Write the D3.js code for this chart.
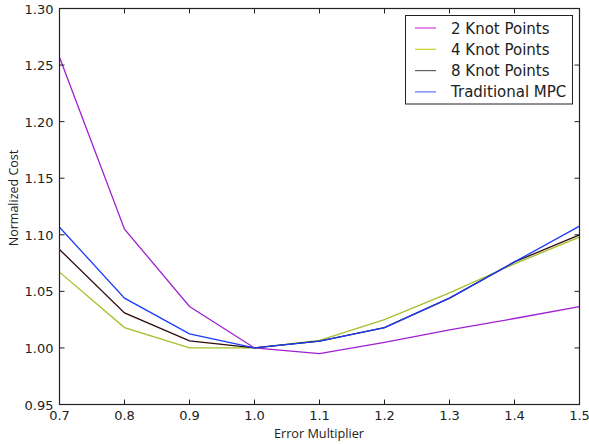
<!DOCTYPE html>
<html><head><meta charset="utf-8">
<script src="https://cdn.jsdelivr.net/npm/d3@7"></script>
<style>body{margin:0;background:#fff}svg{display:block}</style>
</head><body><svg id="c" width="589" height="444"></svg>
<script>
const multipliers = [0.7, 0.8, 0.9, 1.0, 1.1, 1.2, 1.3, 1.4, 1.5];
const knot2 = [1.257, 1.105, 1.0366, 1.000, 0.995, 1.005, 1.016, 1.026, 1.0366];
const knot4 = [1.067, 1.018, 1.000, 1.000, 1.0066, 1.025, 1.0487, 1.0743, 1.098];
const knot8 = [1.087, 1.031, 1.0063, 1.000, 1.006, 1.018, 1.044, 1.076, 1.100];
const tradMPC = [1.1067, 1.044, 1.0124, 1.000, 1.006, 1.018, 1.044, 1.076, 1.1076];
const seriesNames = ["2 Knot Points", "4 Knot Points", "8 Knot Points", "Traditional MPC"];
const seriesColors = ["#a020d0", "#a4c028", "#300c0c", "#1a3cff"];
const legendColors = ["#d040e0", "#d0d020", "#606060", "#6070ff"];
const xTicks = [0.7, 0.8, 0.9, 1.0, 1.1, 1.2, 1.3, 1.4, 1.5];
const yTicks = [0.95, 1.00, 1.05, 1.10, 1.15, 1.20, 1.25, 1.30];

const series = [knot2, knot4, knot8, tradMPC];
const svg = d3.select("#c");
const L = 59.5, R = 579.5, T = 8.5, B = 404.5;
const x = d3.scaleLinear().domain([0.7, 1.5]).range([L, R]);
const y = d3.scaleLinear().domain([0.95, 1.30]).range([B, T]);
const font = "DejaVu Sans, sans-serif";

// lines
const line = d3.line().x((d, i) => x(multipliers[i])).y(d => y(d));
series.forEach((s, k) => {
  svg.append("path").datum(s).attr("d", line).attr("fill", "none")
    .attr("stroke", seriesColors[k]).attr("stroke-width", 1.3);
});

// frame
svg.append("rect").attr("x", L).attr("y", T).attr("width", R - L).attr("height", B - T)
  .attr("fill", "none").attr("stroke", "#222").attr("stroke-width", 1.2);

// ticks inward on all sides
const g = svg.append("g");
xTicks.forEach(t => {
  g.append("line").attr("x1", x(t)).attr("x2", x(t)).attr("y1", B).attr("y2", B - 5).attr("stroke", "#222");
  g.append("line").attr("x1", x(t)).attr("x2", x(t)).attr("y1", T).attr("y2", T + 5).attr("stroke", "#222");
  g.append("text").attr("x", x(t)).attr("y", B + 15).attr("text-anchor", "middle")
    .attr("font-family", font).attr("font-size", 13).attr("fill", "#222").text(d3.format(".1f")(t));
});
yTicks.forEach(t => {
  g.append("line").attr("x1", L).attr("x2", L + 5).attr("y1", y(t)).attr("y2", y(t)).attr("stroke", "#222");
  g.append("line").attr("x1", R).attr("x2", R - 5).attr("y1", y(t)).attr("y2", y(t)).attr("stroke", "#222");
  g.append("text").attr("x", L - 6).attr("y", y(t) + 5).attr("text-anchor", "end")
    .attr("font-family", font).attr("font-size", 13).attr("fill", "#222").text(d3.format(".2f")(t));
});

// axis labels
svg.append("text").attr("x", 319).attr("y", 438).attr("text-anchor", "middle")
  .attr("font-family", "Open Sans, sans-serif").attr("font-size", 12.7).attr("fill", "#222").text("Error Multiplier");
svg.append("text").attr("transform", "translate(18,198) rotate(-90)").attr("text-anchor", "middle")
  .attr("font-family", "Open Sans, sans-serif").attr("font-size", 12.5).attr("fill", "#222").text("Normalized Cost");

// legend
const lg = svg.append("g");
lg.append("rect").attr("x", 405.5).attr("y", 15.5).attr("width", 167).attr("height", 88.5)
  .attr("fill", "#fff").attr("stroke", "#222").attr("stroke-width", 1);
seriesNames.forEach((n, i) => {
  const yy = 28 + i * 21.3;
  lg.append("line").attr("x1", 415).attr("x2", 436).attr("y1", yy).attr("y2", yy)
    .attr("stroke", legendColors[i]).attr("stroke-width", 1.2);
  lg.append("text").attr("x", 451).attr("y", yy + 5.5).attr("font-family", font)
    .attr("font-size", 15).attr("fill", "#222").text(n);
});
</script></body></html>
